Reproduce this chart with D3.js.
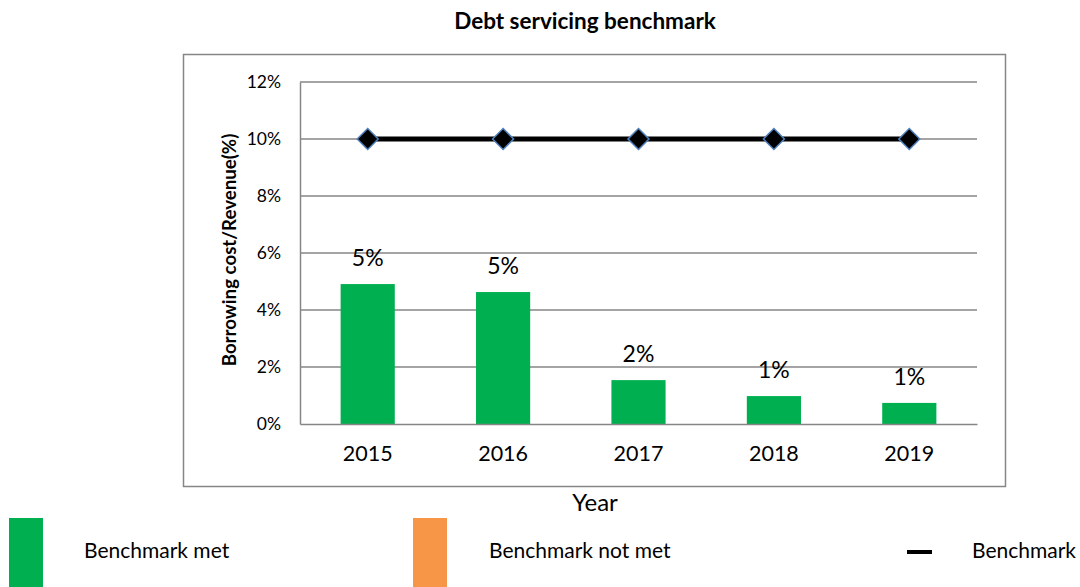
<!DOCTYPE html>
<html>
<head>
<meta charset="utf-8">
<script src="https://cdn.jsdelivr.net/npm/d3@7/dist/d3.min.js"></script>
<style>
  html, body { margin: 0; padding: 0; background: #fff; }
  svg { display: block; font-family: Lato, "Open Sans", sans-serif; }
</style>
</head>
<body>
<svg id="chart" width="1080" height="587"></svg>
<script>
// Debt servicing: borrowing cost as a share of revenue, by year
const years = ["2015", "2016", "2017", "2018", "2019"];
const ratio = [0.0491, 0.0463, 0.0154, 0.0098, 0.0074];
const benchmark = [0.10, 0.10, 0.10, 0.10, 0.10];
const yTicks = [0, 0.02, 0.04, 0.06, 0.08, 0.10, 0.12];
const legendItems = ["Benchmark met", "Benchmark not met", "Benchmark"];

const GREEN = "#00b050", ORANGE = "#f79646", GRID = "#868686";

const svg = d3.select("#chart");
const plot = { left: 300, right: 977, top: 82, bottom: 424 };

// outer chart frame
svg.append("rect")
  .attr("x", 183.5).attr("y", 54.5).attr("width", 822).attr("height", 432)
  .attr("fill", "none").attr("stroke", GRID).attr("stroke-width", 1.5);

// title
svg.append("text")
  .attr("x", 585).attr("y", 29).attr("text-anchor", "middle")
  .attr("font-weight", "bold").attr("font-size", 22.5)
  .text("Debt servicing benchmark");

const x = d3.scaleBand().domain(years)
  .range([plot.left, plot.right]).paddingInner(0.6).paddingOuter(0.3);
const y = d3.scaleLinear().domain([0, 0.12]).range([plot.bottom, plot.top]);

// gridlines
svg.append("g").selectAll("line").data(yTicks.slice(1)).join("line")
  .attr("x1", plot.left).attr("x2", plot.right)
  .attr("y1", d => y(d)).attr("y2", d => y(d))
  .attr("stroke", GRID).attr("stroke-width", 1.5);

// y axis
const yAxis = svg.append("g").attr("transform", `translate(${plot.left},0)`)
  .call(d3.axisLeft(y).tickValues(yTicks).tickFormat(d3.format(".0%")).tickSize(0).tickPadding(19));
yAxis.select(".domain").attr("stroke", GRID).attr("stroke-width", 1.5);
yAxis.selectAll("text").attr("font-size", 17.5).attr("font-family", "Lato").attr("fill", "#000");

// bars
svg.append("g").selectAll("rect").data(years).join("rect")
  .attr("x", d => x(d)).attr("width", x.bandwidth())
  .attr("y", (d, i) => y(ratio[i])).attr("height", (d, i) => y(0) - y(ratio[i]))
  .attr("fill", GREEN);

// x axis
const xAxis = svg.append("g").attr("transform", `translate(0,${plot.bottom})`)
  .call(d3.axisBottom(x).tickSize(0).tickPadding(22));
xAxis.select(".domain").attr("stroke", GRID).attr("stroke-width", 1.5);
xAxis.selectAll("text").attr("font-size", 21.5).attr("font-family", "Lato").attr("fill", "#000");

// value labels
svg.append("g").selectAll("text").data(years).join("text")
  .attr("x", d => x(d) + x.bandwidth() / 2)
  .attr("y", (d, i) => y(ratio[i]) - 18)
  .attr("text-anchor", "middle").attr("font-size", 23)
  .text((d, i) => d3.format(".0%")(ratio[i]));

// benchmark line with diamond markers
const cx = d => x(d) + x.bandwidth() / 2;
svg.append("path")
  .datum(years)
  .attr("d", d3.line().x(cx).y((d, i) => y(benchmark[i])))
  .attr("fill", "none").attr("stroke", "#000").attr("stroke-width", 5);
svg.append("g").selectAll("path").data(years).join("path")
  .attr("transform", (d, i) => `translate(${cx(d)},${y(benchmark[i])}) rotate(45)`)
  .attr("d", d3.symbol(d3.symbolSquare, 220))
  .attr("fill", "#000").attr("stroke", "#4f81bd").attr("stroke-width", 1.5);

// axis titles
svg.append("text")
  .attr("transform", "translate(236,250) rotate(-90)")
  .attr("text-anchor", "middle").attr("font-weight", "bold").attr("font-size", 18.7)
  .text("Borrowing cost/Revenue(%)");
svg.append("text")
  .attr("x", 595).attr("y", 511).attr("text-anchor", "middle").attr("font-size", 24)
  .text("Year");

// legend
const legend = svg.append("g");
legend.append("rect").attr("x", 9).attr("y", 518).attr("width", 34).attr("height", 69).attr("fill", GREEN);
legend.append("rect").attr("x", 413).attr("y", 518).attr("width", 34).attr("height", 69).attr("fill", ORANGE);
legend.append("line").attr("x1", 907).attr("x2", 932).attr("y1", 552).attr("y2", 552)
  .attr("stroke", "#000").attr("stroke-width", 4);
legend.selectAll("text.item").data(legendItems).join("text")
  .attr("class", "item")
  .attr("x", (d, i) => [84, 489, 972][i]).attr("y", 553)
  .attr("dominant-baseline", "middle").attr("font-size", 21)
  .text(d => d);
</script>
</body>
</html>
